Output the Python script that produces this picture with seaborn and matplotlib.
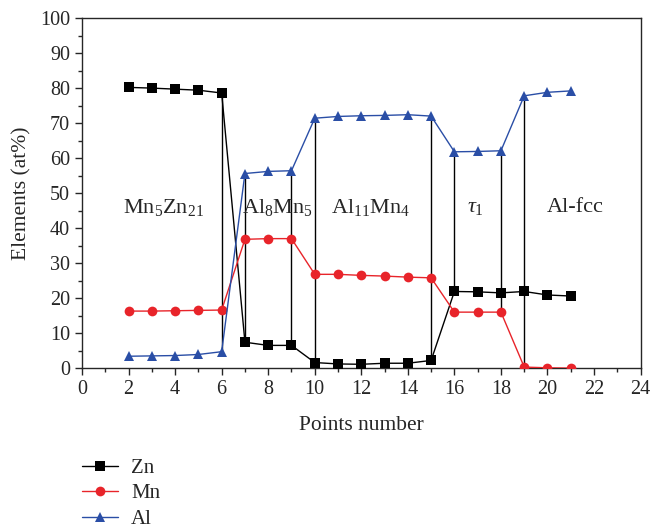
import numpy as np
import pandas as pd
import matplotlib
matplotlib.use("Agg")
import matplotlib.pyplot as plt
import seaborn as sns
from matplotlib.ticker import MultipleLocator

points = list(range(2, 22))
zn = [80.2, 80.0, 79.7, 79.4, 78.6, 7.4, 6.5, 6.5, 1.6, 1.2, 1.1, 1.4, 1.4, 2.2,
      21.9, 21.8, 21.5, 21.9, 20.9, 20.6]
mn = [16.3, 16.3, 16.4, 16.5, 16.6, 36.8, 37.0, 37.0, 26.8, 26.8, 26.5, 26.3, 26.0, 25.8,
      16.0, 16.0, 16.0, 0.3, 0.1, 0.0]
al = [3.4, 3.5, 3.6, 3.9, 4.7, 55.6, 56.2, 56.4, 71.4, 71.9, 72.1, 72.2, 72.4, 72.0,
      61.8, 61.9, 62.1, 77.8, 78.8, 79.2]

# phase boundary lines: x, lower value, upper value
boundary_x = [6, 7, 9, 10, 15, 16, 18, 19]
boundary_lo = [4.7, 7.4, 6.5, 1.6, 2.2, 21.9, 16.0, 0.3]
boundary_hi = [78.6, 55.6, 56.4, 71.4, 72.0, 61.8, 62.1, 77.8]

phase_labels = ["Mn$_5$Zn$_{21}$", "Al$_8$Mn$_5$", "Al$_{11}$Mn$_4$", r"$\tau_1$", "Al-fcc"]
phase_x = [3.5, 8.4, 12.4, 16.9, 21.2]
phase_y = [46, 46, 46, 46, 46]

sns.set_style("ticks")
plt.rcParams["font.family"] = ["Liberation Serif", "DejaVu Serif"]
plt.rcParams["mathtext.fontset"] = "custom"
plt.rcParams["mathtext.rm"] = "Liberation Serif"
plt.rcParams["mathtext.it"] = "Liberation Serif:italic"

df = pd.DataFrame({"Points number": points * 3,
                   "value": zn + mn + al,
                   "Element": ["Zn"] * 20 + ["Mn"] * 20 + ["Al"] * 20})

fig = plt.figure(figsize=(6.51, 5.32), dpi=100)
ax = fig.add_axes([0.126, 0.308, 0.858, 0.658])

palette = {"Zn": "#000000", "Mn": "#e8242a", "Al": "#2a4ea6"}
markers = {"Zn": "s", "Mn": "o", "Al": "^"}
sns.lineplot(data=df, x="Points number", y="value", hue="Element", style="Element",
             palette=palette, markers=markers, dashes=False, markersize=7,
             markeredgewidth=0, linewidth=1.0, ax=ax, zorder=3)

ax.vlines(boundary_x, boundary_lo, boundary_hi, colors="black", linewidth=1.0, zorder=2)

for lab, x, y in zip(phase_labels, phase_x, phase_y):
    ax.text(x, y, lab, ha="center", va="center", fontsize=16)

ax.set_xlim(0, 24)
ax.set_ylim(0, 100)
ax.xaxis.set_major_locator(MultipleLocator(2))
ax.xaxis.set_minor_locator(MultipleLocator(1))
ax.yaxis.set_major_locator(MultipleLocator(10))
ax.yaxis.set_minor_locator(MultipleLocator(5))
ax.tick_params(which="major", length=5, width=1, direction="out", labelsize=14.5)
ax.tick_params(which="minor", length=3, width=1, direction="out")
for s in ax.spines.values():
    s.set_linewidth(1.0)
    s.set_visible(True)
ax.set_xlabel("Points number", fontsize=15.5, labelpad=12)
ax.set_ylabel("Elements (at%)", fontsize=15.5, labelpad=6)

ax.legend(loc="upper left", bbox_to_anchor=(0.0, -0.258), frameon=False,
          fontsize=15, handlelength=1.75, handletextpad=0.6, labelspacing=0.28,
          borderaxespad=0, borderpad=0, title=None, markerscale=1.0)

fig.savefig("out.png", dpi=100)
